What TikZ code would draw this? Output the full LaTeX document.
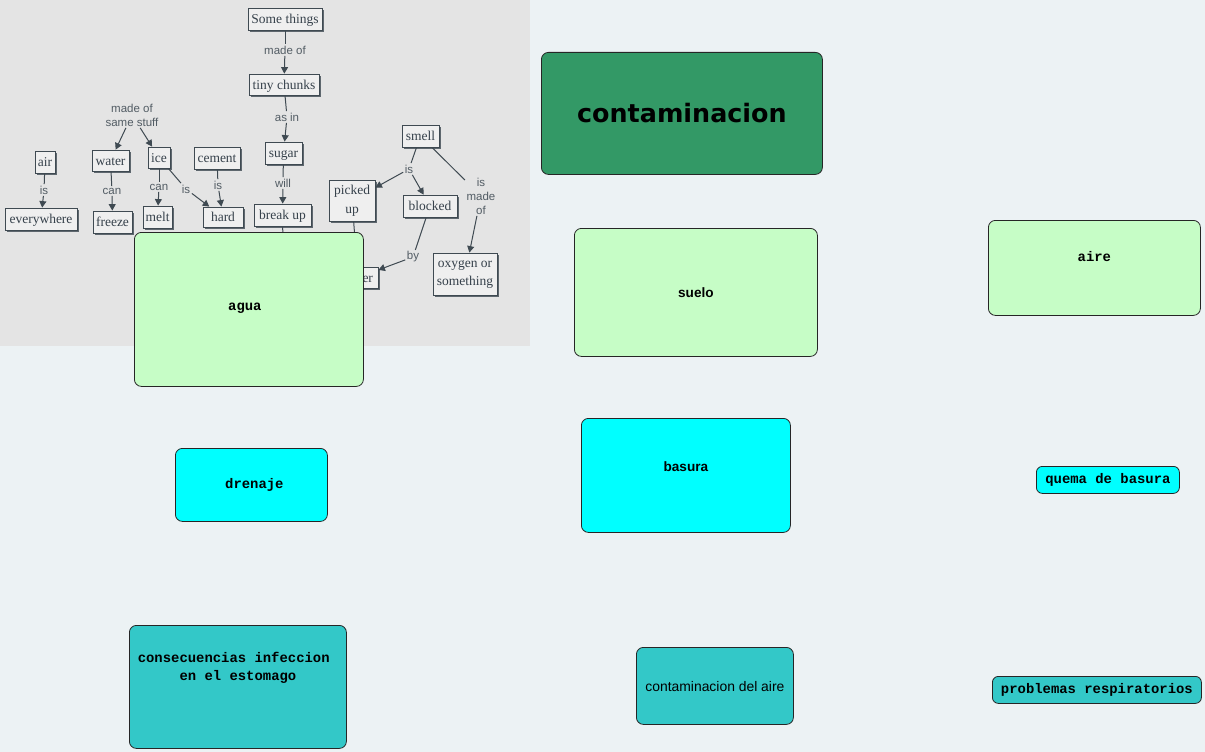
\documentclass[tikz,border=0pt]{standalone}
\usepackage{fontspec}
\setmainfont{Liberation Sans}
\newfontfamily\monof{Liberation Mono}
\newfontfamily\serf{Liberation Serif}
\newfontfamily\djv{DejaVu Sans}
\usetikzlibrary{arrows.meta,shadows}
\definecolor{bgc}{HTML}{ECF2F4}
\definecolor{imgbg}{HTML}{E4E4E4}
\definecolor{contc}{HTML}{339966}
\definecolor{lgreen}{HTML}{C6FDC6}
\definecolor{cyanc}{HTML}{00FFFF}
\definecolor{tealc}{HTML}{33C8C8}
\definecolor{edraw}{HTML}{3F4A52}
\definecolor{etext}{HTML}{36414B}
\definecolor{ltext}{HTML}{525C64}
\definecolor{eshadow}{HTML}{5E676E}
\colorlet{efill}{imgbg!60!white}
\tikzset{
  mbox/.style={draw=black!85, line width=0.8pt, rounded corners=7pt, inner sep=0pt, anchor=north west, text=black},
  monobf/.style={font=\monof\bfseries\fontsize{13.9}{18}\selectfont},
  sansbf/.style={font=\bfseries\fontsize{13.6}{16}\selectfont},
  enode/.style={draw=edraw, fill=efill, line width=0.8pt, inner sep=0pt, text=etext,
    font=\serf\fontsize{13.5}{19}\selectfont, align=center,
    drop shadow={shadow xshift=1.8pt, shadow yshift=-1.8pt, fill=eshadow, opacity=1}},
  eone/.style={enode, text height=10pt, text depth=1pt},
  elabel/.style={inner sep=1.5pt, text=ltext, font=\fontsize{11.5}{14}\selectfont, align=center},
  eline/.style={draw=edraw, line width=1pt},
  earrow/.style={draw=edraw, line width=1pt, -{Triangle[length=6.5pt,width=7pt]}},
}
\begin{document}
\begin{tikzpicture}[x=1pt,y=-1pt]
\useasboundingbox (0,0) rectangle (1205,752);
\fill[bgc] (0,0) rectangle (1205,752);
\fill[imgbg] (0,0) rectangle (530,346);

% embedded concept map
\node[eone, minimum width=74pt, minimum height=22pt] (somethings) at (285,19) {Some things};
\node[eone, minimum width=70pt, minimum height=21pt] (tiny) at (284,84.5) {tiny chunks};
\node[eone, minimum width=37pt, minimum height=22pt] (sugar) at (283.5,153) {sugar};
\node[eone, minimum width=57pt, minimum height=22pt] (breakup) at (282.5,215) {break up};
\node[eone, minimum width=37pt, minimum height=22pt] (smell) at (420.5,136) {smell};
\node[enode, minimum width=46pt, minimum height=41pt] (picked) at (352,200.5) {picked\\up};
\node[eone, minimum width=54pt, minimum height=22pt] (blocked) at (430,206) {blocked};
\node[enode, minimum width=64pt, minimum height=42pt, font=\serf\fontsize{13.5}{18}\selectfont] (oxygen) at (465,274) {oxygen or\\something};
\node[eone, minimum width=40pt, minimum height=21pt] (er) at (358,277.5) {\hphantom{wat}er};
\node[eone, minimum width=20pt, minimum height=22pt] (air) at (45,162) {air};
\node[eone, minimum width=72pt, minimum height=22pt] (everywhere) at (41,219) {everywhere};
\node[eone, minimum width=37pt, minimum height=21pt] (water) at (110.5,160.5) {water};
\node[eone, minimum width=39pt, minimum height=22pt] (freeze) at (112.5,222) {freeze};
\node[eone, minimum width=22pt, minimum height=21pt] (ice) at (159,157.5) {ice};
\node[eone, minimum width=29pt, minimum height=22pt] (melt) at (157.5,217) {melt};
\node[eone, minimum width=46pt, minimum height=22pt] (cement) at (217,158) {cement};
\node[eone, minimum width=40pt, minimum height=20pt] (hard) at (223,217) {hard};

\node[elabel] (lsame) at (132,115) {made of\\same stuff};
\node[elabel] (lis1) at (44,190) {is};
\node[elabel] (lcan1) at (112,191) {can};
\node[elabel] (lcan2) at (159,187) {can};
\node[elabel] (lis2) at (186,189) {is};
\node[elabel] (lis3) at (218,185) {is};
\node[elabel] (lmade) at (285,50) {made of};
\node[elabel] (lasin) at (287,117) {as in};
\node[elabel] (lwill) at (283,183) {will};
\node[elabel] (lis4) at (409,169) {is};
\node[elabel] (lismade) at (481,196) {is\\made\\of};
\node[elabel] (lby) at (413,257) {by};
\coordinate (buend) at (283,245);

\draw[earrow] (lsame) -- (water);
\draw[earrow] (lsame) -- (ice);
\draw[eline] (air) -- (lis1);
\draw[earrow] (lis1) -- (everywhere);
\draw[eline] (water) -- (lcan1);
\draw[earrow] (lcan1) -- (freeze);
\draw[eline] (ice) -- (lcan2);
\draw[earrow] (lcan2) -- (melt);
\draw[eline] (ice) -- (lis2);
\draw[earrow] (lis2) -- (hard);
\draw[eline] (cement) -- (lis3);
\draw[earrow] (lis3) -- (hard);
\draw[eline] (somethings) -- (lmade);
\draw[earrow] (lmade) -- (tiny);
\draw[eline] (tiny) -- (lasin);
\draw[earrow] (lasin) -- (sugar);
\draw[eline] (sugar) -- (lwill);
\draw[earrow] (lwill) -- (breakup);
\draw[eline] (breakup) -- (buend);
\draw[eline] (smell) -- (lis4);
\draw[earrow] (lis4) -- (picked);
\draw[earrow] (lis4) -- (blocked);
\draw[eline] (smell) -- (lismade);
\draw[earrow] (lismade) -- (oxygen);
\draw[eline] (blocked) -- (lby);
\draw[earrow] (lby) -- (er);
\draw[earrow] (picked) -- (er);

% main concept boxes
\node[mbox, fill=contc, minimum width=281pt, text height=70pt, text depth=52pt,
  font=\djv\bfseries\fontsize{25.4}{30}\selectfont] (cont) at (541,52) {contaminacion};
\node[mbox, fill=lgreen, sansbf, minimum width=243pt, text height=69pt, text depth=59pt] (suelo) at (574,228) {suelo};
\node[mbox, fill=lgreen, monobf, minimum width=229pt, text height=78pt, text depth=76pt] (agua) at (134,232) {agua\kern8pt};
\node[mbox, fill=lgreen, monobf, minimum width=212pt, text height=41pt, text depth=54pt] (aire) at (988,220) {aire};
\node[mbox, fill=cyanc, monobf, minimum width=152pt, text height=40pt, text depth=33pt] (drenaje) at (175,448) {\hspace{6pt}drenaje};
\node[mbox, fill=cyanc, sansbf, minimum width=209pt, text height=53pt, text depth=61pt] (basura) at (581,418) {basura};
\node[mbox, fill=cyanc, monobf, rounded corners=6pt, minimum width=143pt, text height=17pt, text depth=10pt] (quema) at (1036,466) {quema de basura};
\node[mbox, fill=tealc, monobf, minimum width=217pt, text height=37pt, text depth=86pt] (consec) at (129,625)
  {\begin{tabular}[t]{@{}c@{}}consecuencias infeccion\hphantom{x}\\en el estomago\end{tabular}};
\node[mbox, fill=tealc, font=\fontsize{13.9}{16}\selectfont, minimum width=157pt, text height=44pt, text depth=33pt] (contaire) at (636,647) {contaminacion del aire};
\node[mbox, fill=tealc, monobf, rounded corners=6pt, minimum width=209pt, text height=17pt, text depth=10pt] (probl) at (992,676) {problemas respiratorios};
\end{tikzpicture}
\end{document}
